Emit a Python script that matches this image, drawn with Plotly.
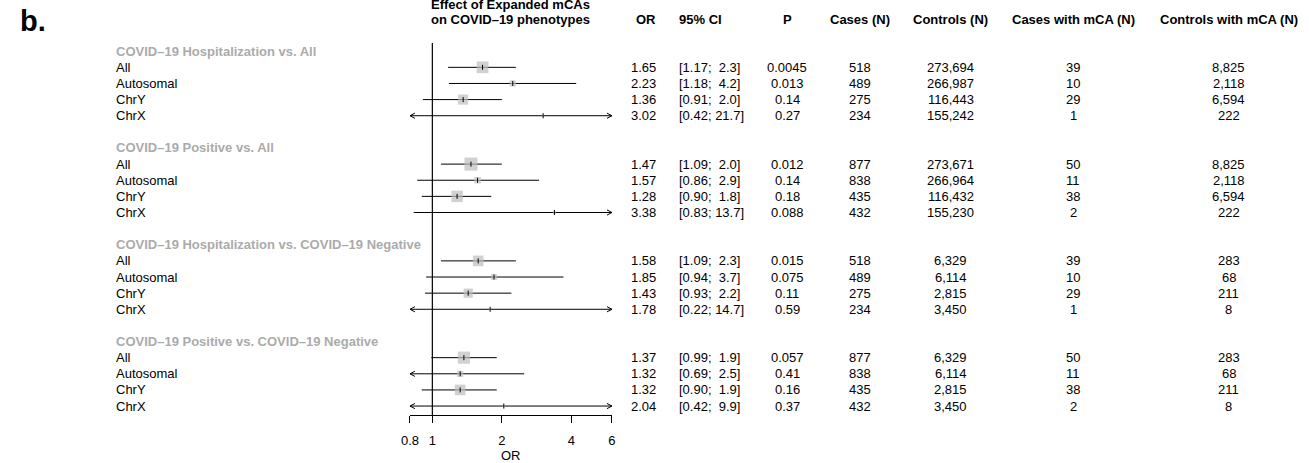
import math
import plotly.graph_objects as go

# ---- data -------------------------------------------------------------
groups = [
    "COVID\u201319 Hospitalization vs. All",
    "COVID\u201319 Positive vs. All",
    "COVID\u201319 Hospitalization vs. COVID\u201319 Negative",
    "COVID\u201319 Positive vs. COVID\u201319 Negative",
]
subgroups = ["All", "Autosomal", "ChrY", "ChrX"]

or_vals = [[1.65, 2.23, 1.36, 3.02],
           [1.47, 1.57, 1.28, 3.38],
           [1.58, 1.85, 1.43, 1.78],
           [1.37, 1.32, 1.32, 2.04]]
ci_lo = [[1.17, 1.18, 0.91, 0.42],
         [1.09, 0.86, 0.90, 0.83],
         [1.09, 0.94, 0.93, 0.22],
         [0.99, 0.69, 0.90, 0.42]]
ci_hi = [[2.3, 4.2, 2.0, 21.7],
         [2.0, 2.9, 1.8, 13.7],
         [2.3, 3.7, 2.2, 14.7],
         [1.9, 2.5, 1.9, 9.9]]
p_vals = [["0.0045", "0.013", "0.14", "0.27"],
          ["0.012", "0.14", "0.18", "0.088"],
          ["0.015", "0.075", "0.11", "0.59"],
          ["0.057", "0.41", "0.16", "0.37"]]
cases_n = [[518, 489, 275, 234],
           [877, 838, 435, 432],
           [518, 489, 275, 234],
           [877, 838, 435, 432]]
controls_n = [[273694, 266987, 116443, 155242],
              [273671, 266964, 116432, 155230],
              [6329, 6114, 2815, 3450],
              [6329, 6114, 2815, 3450]]
cases_mca = [[39, 10, 29, 1],
             [50, 11, 38, 2],
             [39, 10, 29, 1],
             [50, 11, 38, 2]]
controls_mca = [[8825, 2118, 6594, 222],
                [8825, 2118, 6594, 222],
                [283, 68, 211, 8],
                [283, 68, 211, 8]]

axis_ticks = [0.8, 1, 2, 4, 6]
axis_ticktext = ["0.8", "1", "2", "4", "6"]

# ---- layout geometry (pixels) ------------------------------------------
W, H = 1309, 463
X_MIN, X_MAX = 0.8, 6.0
PLOT_L, PLOT_R = 405, 609          # forest panel horizontal extent
ROW0_Y, ROW_H = 51.2, 16.13        # first header row centre and row pitch
AXIS_Y = 415
FONT = "Liberation Sans, Arial, Helvetica, sans-serif"
FS = 13
SQUARE_GREY = "#BEBEBE"
HEADER_GREY = "#ABABAB"

px_per_ln = (PLOT_R - PLOT_L) / (math.log(X_MAX) - math.log(X_MIN))


def row_of_px(py):
    return (py - ROW0_Y) / ROW_H


def px_x(px):
    return px / W


# rows: header, 4 subgroups, blank per group
rows_header = []
rows_item = []
for g in range(len(groups)):
    base = g * 6
    rows_header.append(base)
    rows_item.append([base + 1 + k for k in range(len(subgroups))])

fig = go.Figure()

# ---- confidence interval lines and arrows ------------------------------
line_x, line_y = [], []
arrow_x, arrow_y = [], []
arm_dx = 5.0 / px_per_ln
arm_dy = 2.6 / ROW_H
for g in range(len(groups)):
    for k in range(len(subgroups)):
        r = rows_item[g][k]
        lo, hi = ci_lo[g][k], ci_hi[g][k]
        a = max(lo, X_MIN)
        b = min(hi, X_MAX)
        line_x += [a, b, None]
        line_y += [r, r, None]
        if lo < X_MIN:
            tip = X_MIN
            end = tip * math.exp(arm_dx)
            arrow_x += [end, tip, end, None]
            arrow_y += [r - arm_dy, r, r + arm_dy, None]
        if hi > X_MAX:
            tip = X_MAX
            end = tip * math.exp(-arm_dx)
            arrow_x += [end, tip, end, None]
            arrow_y += [r - arm_dy, r, r + arm_dy, None]

fig.add_trace(go.Scatter(x=line_x, y=line_y, mode="lines",
                         line=dict(color="black", width=1),
                         hoverinfo="skip"))
fig.add_trace(go.Scatter(x=arrow_x, y=arrow_y, mode="lines",
                         line=dict(color="black", width=1),
                         hoverinfo="skip"))

# ---- squares sized by inverse standard error ---------------------------
sq_x, sq_y, sq_s = [], [], []
for g in range(len(groups)):
    for k in range(len(subgroups)):
        se = (math.log(ci_hi[g][k]) - math.log(ci_lo[g][k])) / (2 * 1.96)
        sq_x.append(or_vals[g][k])
        sq_y.append(rows_item[g][k])
        sq_s.append(2.02 / se)

fig.add_trace(go.Scatter(x=sq_x, y=sq_y, mode="markers",
                         marker=dict(symbol="square", size=sq_s,
                                     color=SQUARE_GREY, line=dict(width=0)),
                         hoverinfo="skip"))
fig.add_trace(go.Scatter(x=sq_x, y=sq_y, mode="markers",
                         marker=dict(symbol="line-ns", size=3.6,
                                     line=dict(color="black", width=1)),
                         hoverinfo="skip"))

# reference line at OR = 1
fig.add_shape(type="line", xref="x", yref="y", x0=1, x1=1,
              y0=row_of_px(43), y1=row_of_px(AXIS_Y),
              line=dict(color="black", width=1.2))

# ---- text --------------------------------------------------------------
ann = []


def text(x_px, row, s, anchor="left", bold=False, color="black", size=FS):
    if bold:
        s = "<b>" + s + "</b>"
    ann.append(dict(x=px_x(x_px), xref="paper", y=row, yref="y",
                    text=s, showarrow=False, xanchor=anchor,
                    yanchor="middle", font=dict(family=FONT, size=size,
                                                color=color)))


NB = "\u00a0"
COL_LABEL = 106
COL_OR = 656       # right aligned
COL_CI = 675       # left aligned
COL_P = 786
COL_CASES = 860
COL_CTRL = 951
COL_CASES_MCA = 1075
COL_CTRL_MCA = 1232
TITLE_X = (PLOT_L + PLOT_R) / 2

hdr_row = row_of_px(19)
text(TITLE_X, row_of_px(4), "Effect of Expanded mCAs", "center", bold=True)
text(TITLE_X, hdr_row, "on COVID\u201319 phenotypes", "center", bold=True)
text(COL_OR, hdr_row, "OR", "right", bold=True)
text(COL_CI, hdr_row, "95% CI", "left", bold=True)
text(COL_P, hdr_row, "P", "center", bold=True)
text(COL_CASES, hdr_row, "Cases (N)", "center", bold=True)
text(COL_CTRL, hdr_row, "Controls (N)", "center", bold=True)
text(COL_CASES_MCA, hdr_row, "Cases with mCA (N)", "center", bold=True)
text(COL_CTRL_MCA, hdr_row, "Controls with mCA (N)", "center", bold=True)

for g in range(len(groups)):
    text(COL_LABEL, rows_header[g], groups[g], "left", bold=True,
         color=HEADER_GREY)
    for k in range(len(subgroups)):
        r = rows_item[g][k]
        text(COL_LABEL, r, subgroups[k])
        text(COL_OR, r, f"{or_vals[g][k]:.2f}", "right")
        ci = f"[{ci_lo[g][k]:.2f}; {ci_hi[g][k]:4.1f}]".replace(" ", NB)
        text(COL_CI, r, ci, "left")
        text(COL_P, r, p_vals[g][k], "center")
        text(COL_CASES, r, f"{cases_n[g][k]:,}", "center")
        text(COL_CTRL, r, f"{controls_n[g][k]:,}", "center")
        text(COL_CASES_MCA, r, f"{cases_mca[g][k]:,}", "center")
        text(COL_CTRL_MCA, r, f"{controls_mca[g][k]:,}", "center")

# axis title
text(TITLE_X, row_of_px(455), "OR", "center")

# panel letter
ann.append(dict(x=px_x(9), xref="paper", y=1 - 21 / H, yref="paper",
                text="<b>b.</b>", showarrow=False, xanchor="left",
                yanchor="middle",
                font=dict(family=FONT, size=29, color="black")))

fig.update_layout(
    width=W, height=H,
    margin=dict(l=0, r=0, t=0, b=0),
    paper_bgcolor="white", plot_bgcolor="white",
    showlegend=False,
    annotations=ann,
    xaxis=dict(type="log",
               range=[math.log10(X_MIN), math.log10(X_MAX)],
               domain=[PLOT_L / W, PLOT_R / W],
               anchor="free", position=1 - AXIS_Y / H,
               tickvals=axis_ticks, ticktext=axis_ticktext,
               ticks="outside", ticklen=7, tickwidth=1, tickcolor="black",
               showline=True, linecolor="black", linewidth=1,
               showgrid=False, zeroline=False,
               ticklabelstandoff=6,
               tickfont=dict(family=FONT, size=FS, color="black")),
    yaxis=dict(range=[row_of_px(H), row_of_px(0)], domain=[0, 1],
               visible=False, showgrid=False, zeroline=False),
)

fig.write_html("out.html")
